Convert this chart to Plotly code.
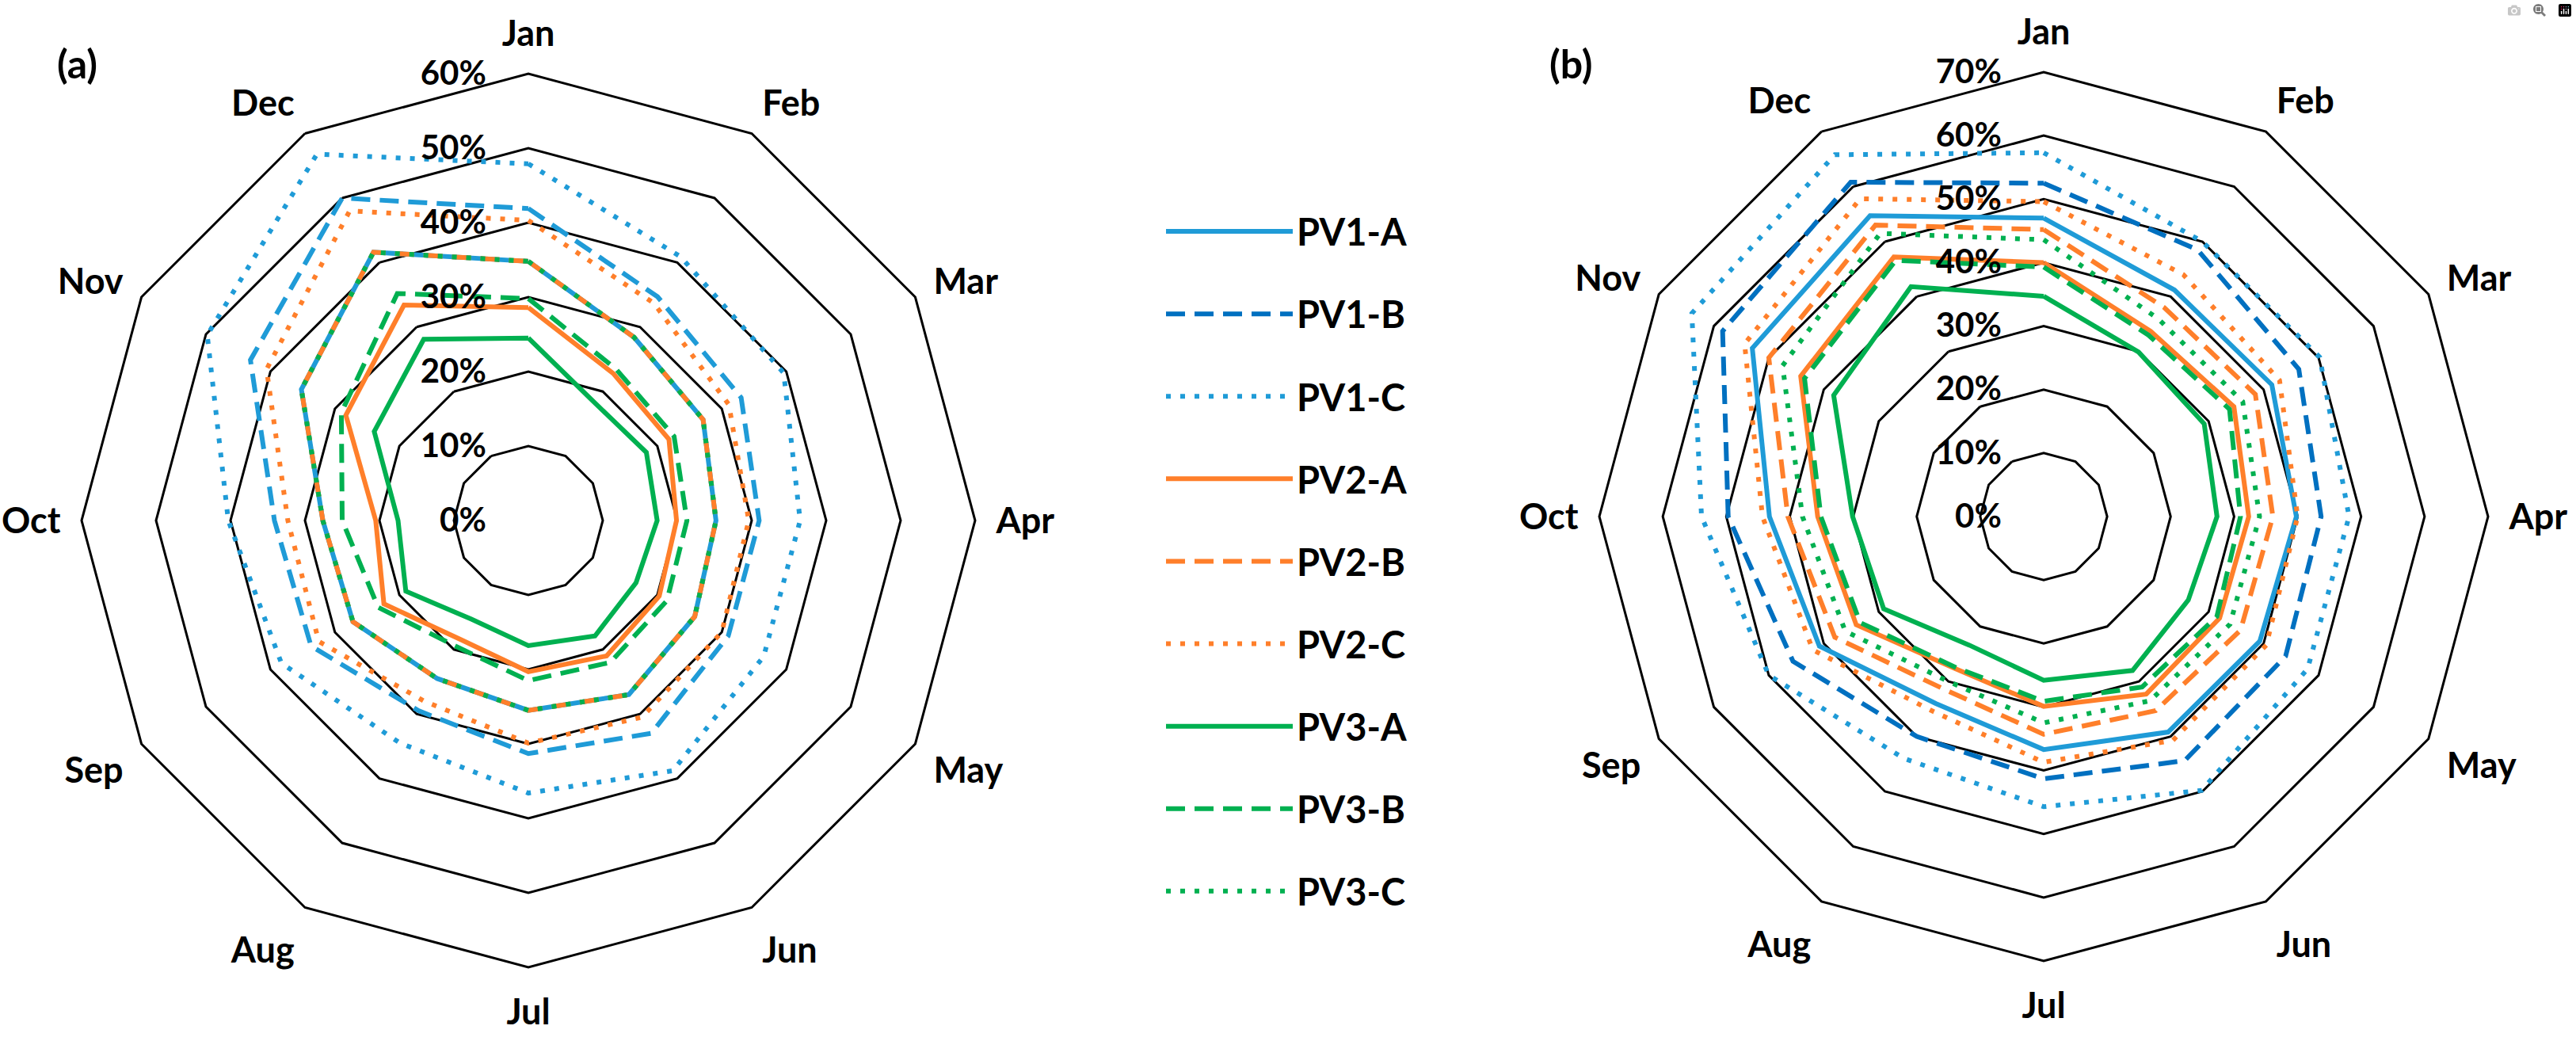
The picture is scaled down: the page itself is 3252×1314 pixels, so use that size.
import plotly.graph_objects as go

months = ["Jan", "Feb", "Mar", "Apr", "May", "Jun", "Jul", "Aug", "Sep", "Oct", "Nov", "Dec"]
series_names = ["PV1-A", "PV1-B", "PV1-C", "PV2-A", "PV2-B", "PV2-C", "PV3-A", "PV3-B", "PV3-C"]

# ---- panel (a) values, % ----
a_pv1a = [34.8, 28.4, 27.1, 25.2, 25.8, 27.0, 25.5, 24.5, 27.2, 27.6, 35.2, 41.6]
a_pv1b = [41.9, 34.7, 33.0, 31.0, 31.0, 33.0, 31.3, 29.5, 33.7, 34.1, 43.1, 50.0]
a_pv1c = [47.9, 40.9, 39.6, 36.5, 36.5, 38.8, 36.6, 34.5, 38.3, 40.3, 49.8, 56.8]
a_pv2a = [28.6, 22.8, 21.8, 19.9, 20.3, 21.0, 20.3, 18.4, 22.4, 20.5, 28.3, 33.4]
a_pv2b = [34.8, 28.4, 27.1, 25.2, 25.8, 27.0, 25.5, 24.5, 27.2, 27.6, 35.2, 41.6]
a_pv2c = [40.3, 33.7, 31.1, 29.6, 30.0, 30.5, 29.9, 28.0, 32.5, 32.3, 40.6, 48.0]
a_pv3a = [24.5, 18.1, 18.3, 17.3, 16.7, 17.9, 16.8, 15.3, 19.0, 17.5, 23.9, 28.1]
a_pv3b = [29.8, 23.5, 22.6, 21.3, 21.5, 22.0, 21.5, 19.5, 23.3, 25.0, 29.0, 35.2]
a_pv3c = [34.8, 28.4, 27.1, 25.2, 25.8, 27.0, 25.5, 24.5, 27.2, 27.6, 35.2, 41.6]

# ---- panel (b) values, % ----
b_pv1a = [47.0, 41.2, 41.5, 39.8, 39.3, 39.2, 36.7, 34.0, 40.8, 43.2, 53.0, 54.7]
b_pv1b = [52.5, 48.5, 46.4, 43.7, 44.0, 44.4, 41.3, 40.0, 45.6, 49.7, 58.4, 60.8]
b_pv1c = [57.3, 50.0, 50.2, 48.1, 48.0, 49.8, 45.7, 44.0, 50.0, 53.9, 64.0, 65.8]
b_pv2a = [40.0, 33.7, 34.6, 32.3, 32.0, 32.3, 29.9, 27.7, 34.1, 35.6, 44.2, 47.2]
b_pv2b = [45.2, 38.0, 38.5, 36.1, 35.8, 35.3, 34.3, 31.4, 38.0, 40.3, 50.0, 53.0]
b_pv2c = [49.6, 44.0, 42.9, 40.0, 40.5, 40.7, 38.7, 35.3, 42.0, 44.3, 54.4, 57.8]
b_pv3a = [34.7, 29.9, 29.2, 27.3, 26.3, 28.0, 25.8, 23.4, 29.1, 30.1, 38.2, 41.8]
b_pv3b = [39.3, 33.0, 33.8, 31.0, 31.5, 31.0, 29.1, 27.5, 33.4, 35.1, 43.5, 46.6]
b_pv3c = [43.6, 36.0, 36.2, 34.0, 33.9, 33.5, 32.5, 30.0, 36.1, 38.0, 47.5, 51.5]

panel_a = [a_pv1a, a_pv1b, a_pv1c, a_pv2a, a_pv2b, a_pv2c, a_pv3a, a_pv3b, a_pv3c]
panel_b = [b_pv1a, b_pv1b, b_pv1c, b_pv2a, b_pv2b, b_pv2c, b_pv3a, b_pv3b, b_pv3c]

BLUE = "#1f9bd7"
DBLUE = "#0070c0"
ORANGE = "#ff7f2a"
GREEN = "#00b050"
DASH = "24px,12px"
DOT = "6px,12px"

colors_a = [BLUE, BLUE, BLUE, ORANGE, ORANGE, ORANGE, GREEN, GREEN, GREEN]
colors_b = [BLUE, DBLUE, BLUE, ORANGE, ORANGE, ORANGE, GREEN, GREEN, GREEN]
dashes = ["solid", DASH, DOT] * 3

FONT = "Lato"
W, H = 3252, 1314

fig = go.Figure()


def closed(vals):
    return list(vals) + [vals[0]]


for name, vals, col, dash in zip(series_names, panel_a, colors_a, dashes):
    fig.add_trace(go.Scatterpolar(
        r=closed(vals), theta=closed(months), mode="lines", name=name,
        line=dict(color=col, width=6, dash=dash),
        subplot="polar", showlegend=False, legendgroup=name, hoverinfo="skip"))

for name, vals, col, dash in zip(series_names, panel_b, colors_b, dashes):
    fig.add_trace(go.Scatterpolar(
        r=closed(vals), theta=closed(months), mode="lines", name=name,
        line=dict(color=col, width=6, dash=dash),
        subplot="polar2", showlegend=True, legendgroup=name, hoverinfo="skip"))


def polar_layout(xdom, ydom, rmax):
    return dict(
        domain=dict(x=xdom, y=ydom),
        gridshape="linear",
        bgcolor="white",
        angularaxis=dict(
            categoryorder="array", categoryarray=months,
            rotation=90, direction="clockwise",
            showgrid=False, showline=True, linecolor="black", linewidth=3,
            ticks="outside", ticklen=16, tickcolor="rgba(0,0,0,0)",
            tickfont=dict(family=FONT, size=45, color="black", weight="bold"),
        ),
        radialaxis=dict(
            range=[0, rmax], dtick=10, tick0=0, ticksuffix="%",
            showgrid=True, gridcolor="black", gridwidth=3,
            showline=False, angle=90, tickangle=90, side="counterclockwise",
            ticks="outside", ticklen=38, tickcolor="rgba(0,0,0,0)",
            tickfont=dict(family=FONT, size=42, color="black", weight="bold"),
        ),
    )


fig.update_layout(
    width=W, height=H,
    margin=dict(l=0, r=0, t=0, b=0),
    paper_bgcolor="white",
    font=dict(family=FONT, color="black"),
    polar=polar_layout([(667 - 564) / W, (667 + 564) / W], [93 / H, 1221 / H], 60),
    polar2=polar_layout([(2580 - 561) / W, (2580 + 561) / W], [101 / H, 1223 / H], 70),
    legend=dict(
        x=1467 / W, y=1 - 255 / H, xanchor="left", yanchor="top",
        font=dict(family=FONT, size=47, color="black", weight="bold"),
        itemwidth=160, tracegroupgap=40, traceorder="grouped",
        bgcolor="rgba(0,0,0,0)",
    ),
    annotations=[
        dict(text="(a)", x=97 / W, y=1 - 80 / H, xref="paper", yref="paper",
             xanchor="center", yanchor="middle", showarrow=False,
             font=dict(family=FONT, size=50, color="black", weight="bold")),
        dict(text="(b)", x=1983 / W, y=1 - 80 / H, xref="paper", yref="paper",
             xanchor="center", yanchor="middle", showarrow=False,
             font=dict(family=FONT, size=50, color="black", weight="bold")),
    ],
)

fig.write_html("out.html", post_script="document.body.style.margin='0';document.body.style.overflow='hidden';")
